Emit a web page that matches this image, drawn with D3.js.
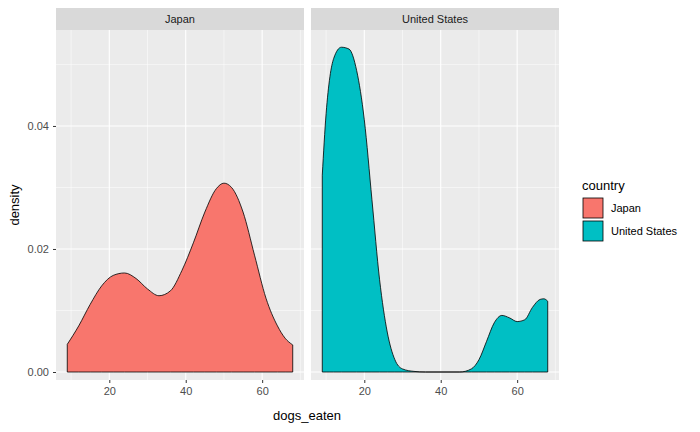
<!DOCTYPE html>
<html><head><meta charset="utf-8">
<script src="https://cdn.jsdelivr.net/npm/d3@7"></script>
<style>body{margin:0;background:#fff}text{font-family:Arial,"Liberation Sans",sans-serif}</style>
</head><body><div id="chart"></div>
<script>
// values
const countries = ["Japan", "United States"];
const colors = ["#F8766D", "#00BFC4"];
const japanX = [9,12,15,18,21,24,27,30,33,36,39,42,45,48,50,52,55,58,61,64,66,68];
const japanD = [0.0045,0.0075,0.011,0.014,0.0157,0.0161,0.0152,0.0135,0.0124,0.0132,0.0165,0.021,0.026,0.0298,0.0307,0.030,0.026,0.019,0.012,0.0075,0.0055,0.0044];
const usX = [9,10,11,12,14,16,18,20,22,24,26,28,30,33,36,45,48,50,52,54,56,58,60,62,64,66,67,68];
const usD = [0.032,0.042,0.048,0.051,0.0528,0.0525,0.049,0.041,0.028,0.015,0.0065,0.002,0.0005,0.0001,0,0,0.0005,0.002,0.005,0.008,0.0092,0.0088,0.0082,0.0085,0.0105,0.0118,0.0119,0.0115];
const xTicks = [20, 40, 60];
const yTicks = [0, 0.02, 0.04];

const W = 700, H = 432;
const svg = d3.select("#chart").append("svg").attr("width", W).attr("height", H);

const panels = [
  {name: countries[0], x0: 56, x1: 304, xs: japanX, ds: japanD, fill: colors[0]},
  {name: countries[1], x0: 311, x1: 559, xs: usX, ds: usD, fill: colors[1]}
];
const plotTop = 30, plotBottom = 380;
const y = d3.scaleLinear().domain([-0.0013, 0.0556]).range([plotBottom, plotTop]);

panels.forEach(p => {
  const x = d3.scaleLinear().domain([6.05, 70.95]).range([p.x0, p.x1]);
  const g = svg.append("g");
  g.append("rect").attr("x", p.x0).attr("y", plotTop).attr("width", p.x1 - p.x0)
    .attr("height", plotBottom - plotTop).attr("fill", "#EBEBEB");
  g.append("rect").attr("x", p.x0).attr("y", 8).attr("width", p.x1 - p.x0)
    .attr("height", plotTop - 8).attr("fill", "#D9D9D9");
  g.append("text").attr("x", (p.x0 + p.x1) / 2).attr("y", 23).attr("text-anchor", "middle")
    .attr("font-size", 11).attr("fill", "#1A1A1A").text(p.name);
  // minor grid
  [0.01, 0.03, 0.05].forEach(v => g.append("line").attr("x1", p.x0).attr("x2", p.x1)
    .attr("y1", y(v)).attr("y2", y(v)).attr("stroke", "#fff").attr("stroke-width", 0.5));
  [10, 30, 50, 70].forEach(v => g.append("line").attr("y1", plotTop).attr("y2", plotBottom)
    .attr("x1", x(v)).attr("x2", x(v)).attr("stroke", "#fff").attr("stroke-width", 0.5));
  yTicks.forEach(v => g.append("line").attr("x1", p.x0).attr("x2", p.x1)
    .attr("y1", y(v)).attr("y2", y(v)).attr("stroke", "#fff").attr("stroke-width", 1.1));
  xTicks.forEach(v => g.append("line").attr("y1", plotTop).attr("y2", plotBottom)
    .attr("x1", x(v)).attr("x2", x(v)).attr("stroke", "#fff").attr("stroke-width", 1.1));
  const pts = p.xs.map((v, i) => [v, p.ds[i]]);
  const area = d3.area().x(d => x(d[0])).y0(y(0)).y1(d => y(d[1])).curve(d3.curveMonotoneX);
  g.append("path").datum(pts).attr("d", area).attr("fill", p.fill)
    .attr("stroke", "#000").attr("stroke-width", 0.8);
  const ax = g.append("g").attr("transform", `translate(0,${plotBottom})`)
    .call(d3.axisBottom(x).tickValues(xTicks).tickSize(3).tickPadding(4));
  ax.select(".domain").remove();
  ax.selectAll("line").attr("stroke", "#333");
  ax.selectAll("text").attr("fill", "#4D4D4D").attr("font-size", 11).attr("font-family", "Arial");
});

const ay = svg.append("g").attr("transform", `translate(56,0)`)
  .call(d3.axisLeft(y).tickValues(yTicks).tickFormat(d3.format(".2f")).tickSize(3).tickPadding(4));
ay.select(".domain").remove();
ay.selectAll("line").attr("stroke", "#333");
ay.selectAll("text").attr("fill", "#4D4D4D").attr("font-size", 11).attr("font-family", "Arial");

svg.append("text").attr("x", 307).attr("y", 420).attr("text-anchor", "middle")
  .attr("font-size", 13).text("dogs_eaten");
svg.append("text").attr("transform", "translate(19,205) rotate(-90)").attr("text-anchor", "middle")
  .attr("font-size", 13).text("density");

const leg = svg.append("g").attr("transform", "translate(582,0)");
leg.append("text").attr("x", 0).attr("y", 190).attr("font-size", 13).text("country");
countries.forEach((c, i) => {
  leg.append("rect").attr("x", 1).attr("y", 198 + i * 23).attr("width", 20).attr("height", 20)
    .attr("fill", colors[i]).attr("stroke", "#000").attr("stroke-width", 0.8);
  leg.append("text").attr("x", 29).attr("y", 212 + i * 23).attr("font-size", 11).text(c);
});
</script></body></html>
